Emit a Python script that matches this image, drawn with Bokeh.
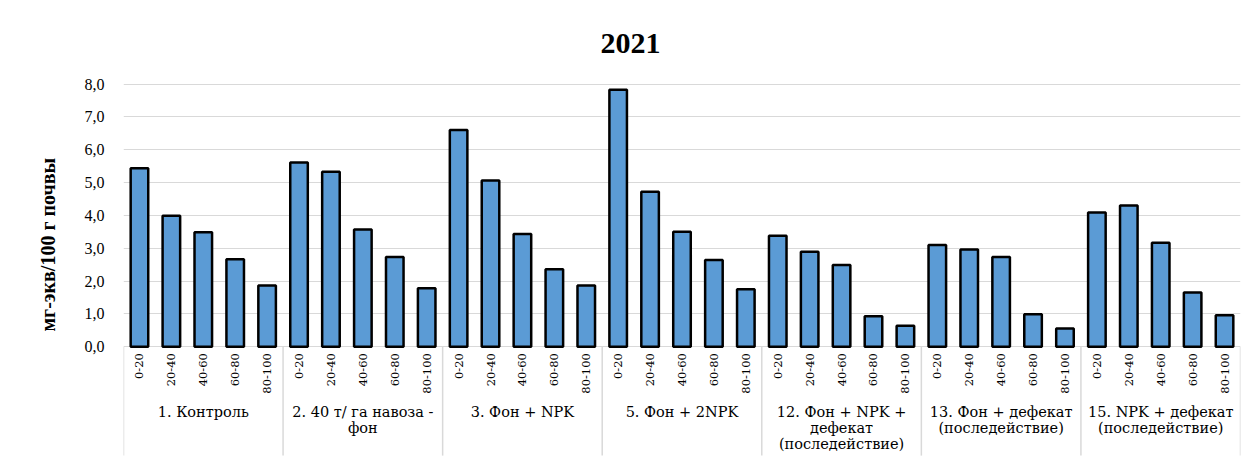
from math import pi
from bokeh.plotting import figure
from bokeh.models import FactorRange, Range1d, FixedTicker, Title, ColumnDataSource
from bokeh.core.properties import value
from bokeh.embed import file_html
from bokeh.resources import INLINE

title_text = "2021"
y_label = "мг-экв/100 г почвы"

groups = ["1. Контроль", "2. 40 т/ га навоза - фон", "3. Фон + NPK", "5. Фон + 2NPK",
          "12. Фон + NPK + дефекат (последействие)", "13. Фон + дефекат (последействие)",
          "15. NPK + дефекат (последействие)"]
group_labels = ["1. Контроль", "2. 40 т/ га навоза -\nфон", "3. Фон + NPK", "5. Фон + 2NPK",
                "12. Фон + NPK +\nдефекат\n(последействие)", "13. Фон + дефекат\n(последействие)",
                "15. NPK + дефекат\n(последействие)"]
depths = ["0-20", "20-40", "40-60", "60-80", "80-100"]

v_control = [5.44, 3.99, 3.49, 2.66, 1.86]
v_manure = [5.61, 5.33, 3.57, 2.73, 1.78]
v_npk = [6.60, 5.06, 3.43, 2.36, 1.86]
v_2npk = [7.83, 4.72, 3.50, 2.64, 1.75]
v_npk_def = [3.38, 2.89, 2.49, 0.93, 0.64]
v_fon_def = [3.10, 2.96, 2.73, 0.99, 0.55]
v_npk_def15 = [4.09, 4.30, 3.17, 1.65, 0.96]
series = [v_control, v_manure, v_npk, v_2npk, v_npk_def, v_fon_def, v_npk_def15]

y_ticks = [0, 1, 2, 3, 4, 5, 6, 7, 8]
y_tick_labels = ["0,0", "1,0", "2,0", "3,0", "4,0", "5,0", "6,0", "7,0", "8,0"]

factors = [(g, d) for g in groups for d in depths]
tops = [v for s in series for v in s]
src = ColumnDataSource(dict(x=factors, top=tops, depth=[d for g in groups for d in depths]))
gsrc = ColumnDataSource(dict(x=groups, text=group_labels))
bounds = [len(depths) * i for i in range(len(groups) + 1)]
sep = ColumnDataSource(dict(x=bounds))

SERIF = "'Liberation Serif'"
GLYPH_SERIF = value("DejaVu Serif")

p = figure(x_range=FactorRange(factors=factors, factor_padding=0, group_padding=0,
                               subgroup_padding=0, range_padding=0),
           y_range=Range1d(-3.5, 8.05),
           width=1246, height=461, output_backend="svg", toolbar_location=None,
           min_border_left=123, min_border_right=6, min_border_top=82, min_border_bottom=0)
p.outline_line_color = None
p.xaxis.visible = False
p.xgrid.visible = False
ticker = FixedTicker(ticks=y_ticks)
p.yaxis.ticker = ticker
p.ygrid.ticker = ticker
p.ygrid.grid_line_color = "#d9d9d9"
p.ygrid.grid_line_width = 1
p.yaxis.major_label_overrides = {t: l for t, l in zip(y_ticks, y_tick_labels)}
p.yaxis.axis_line_color = None
p.yaxis.major_tick_line_color = None
p.yaxis.minor_tick_line_color = None
p.yaxis.major_tick_out = 0
p.yaxis.major_tick_in = 0
p.yaxis.major_label_standoff = 19
p.yaxis.major_label_text_font = SERIF
p.yaxis.major_label_text_font_size = "16px"
p.yaxis.major_label_text_color = "#000000"

p.vbar(x="x", top="top", width=0.55, source=src, fill_color="#5b9bd5",
       line_color="black", line_width=2.5)

p.segment(x0="x", y0=0, x1="x", y1=-3.32, source=sep, line_color="#d9d9d9", line_width=1.5)

p.text(x="x", y=-0.2, text="depth", source=src, angle=pi / 2, text_align="right",
       text_baseline="middle", text_font=GLYPH_SERIF, text_font_size="11.5px",
       text_color="black")

p.text(x="x", y=-1.76, text="text", source=gsrc, text_align="center", text_baseline="top",
       text_font=GLYPH_SERIF, text_font_size="14.5px", text_color="black",
       text_line_height=1.0)

p.title.text = title_text
p.title.align = "left"
p.title.offset = 477
p.title.vertical_align = "bottom"
p.title.standoff = 60
p.title.text_font = SERIF
p.title.text_font_style = "bold"
p.title.text_font_size = "30px"
p.title.text_color = "black"

p.add_layout(Title(text=y_label, align="left", offset=130, vertical_align="middle", standoff=44,
                   text_font=SERIF, text_font_style="bold", text_font_size="20px",
                   text_color="black"), "left")

open("out.html", "w").write(file_html(p, INLINE))
